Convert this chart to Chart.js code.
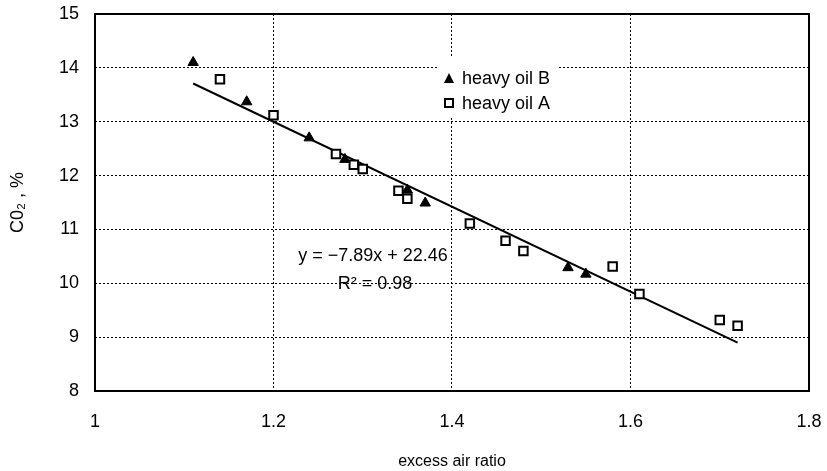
<!DOCTYPE html>
<html>
<head>
<meta charset="utf-8">
<script src="https://cdn.jsdelivr.net/npm/chart.js@4/dist/chart.umd.min.js"></script>
<style>
  body { margin: 0; background: #fff; }
  canvas { display: block; }
</style>
</head>
<body>
<canvas id="co2Chart" width="827" height="471"></canvas>
<script>
// values
var oilBX = [1.11, 1.17, 1.24, 1.28, 1.35, 1.37, 1.53, 1.55];
var oilBY = [14.10, 13.37, 12.70, 12.30, 11.73, 11.49, 10.29, 10.17];

var oilAX = [1.14, 1.20, 1.27, 1.29, 1.30, 1.34, 1.35, 1.42, 1.46, 1.48, 1.58, 1.61, 1.70, 1.72];
var oilAY = [13.79, 13.12, 12.40, 12.20, 12.12, 11.72, 11.57, 11.11, 10.79, 10.60, 10.31, 9.80, 9.32, 9.21];

// regression line ends, as drawn
var trendX = [1.11, 1.72];
var trendY = [13.71, 8.90];

var xTickValues = [1, 1.2, 1.4, 1.6, 1.8];
var yTickValues = [8, 9, 10, 11, 12, 13, 14, 15];

var seriesNames = ["heavy oil B", "heavy oil A"];
var equationLines = ["y = \u22127.89x + 22.46", "R\u00b2 = 0.98"];

function toPoints(xs, ys) {
   var pts = [];
   for (var i = 0; i < xs.length; i++) {
      pts.push({ x: xs[i], y: ys[i] });
   }
   return pts;
}

var FONT = "'Liberation Sans', Arial, Helvetica, sans-serif";

// legend box, equation text and the solid frame round the plot
var extrasPlugin = {
   id: "extras",
   afterDatasetsDraw: function (chart) {
      var ctx = chart.ctx;
      ctx.save();

      // legend (white box hides the grid behind it)
      ctx.fillStyle = "#fff";
      ctx.fillRect(437, 58, 122, 60);
      ctx.fillStyle = "#000";
      ctx.beginPath();
      ctx.moveTo(449, 73);
      ctx.lineTo(454, 83);
      ctx.lineTo(444, 83);
      ctx.closePath();
      ctx.fill();
      ctx.lineWidth = 2;
      ctx.strokeRect(445, 99, 8, 8);
      ctx.font = "18px " + FONT;
      ctx.textAlign = "left";
      ctx.textBaseline = "middle";
      ctx.fillText(seriesNames[0], 462, 79);
      ctx.fillText(seriesNames[1], 462, 104);

      // regression equation
      ctx.textAlign = "center";
      ctx.fillText(equationLines[0], 373, 256);
      ctx.fillText(equationLines[1], 375, 284);

      // frame
      var a = chart.chartArea;
      ctx.lineWidth = 2;
      ctx.strokeRect(a.left, a.top, a.right - a.left, a.bottom - a.top);
      ctx.restore();
   }
};

var ctx = document.getElementById("co2Chart").getContext("2d");
var co2Chart = new Chart(ctx, {
   type: "scatter",
   data: {
      datasets: [
         {
            label: seriesNames[0],
            data: toPoints(oilBX, oilBY),
            pointStyle: "triangle",
            pointRadius: 6,
            pointBackgroundColor: "#000",
            pointBorderColor: "#000",
            pointBorderWidth: 1,
            order: 0
         },
         {
            label: seriesNames[1],
            data: toPoints(oilAX, oilAY),
            pointStyle: "rect",
            pointRadius: 6,
            pointBackgroundColor: "#fff",
            pointBorderColor: "#000",
            pointBorderWidth: 2,
            order: 1
         },
         {
            type: "line",
            label: "trend",
            data: toPoints(trendX, trendY),
            borderColor: "#000",
            borderWidth: 2,
            pointRadius: 0,
            fill: false,
            order: 2
         }
      ]
   },
   options: {
      responsive: false,
      animation: false,
      layout: { padding: { left: 0, right: 18, top: 14, bottom: 0 } },
      plugins: {
         legend: { display: false },
         tooltip: { enabled: false }
      },
      scales: {
         x: {
            type: "linear",
            min: 1,
            max: 1.8,
            afterBuildTicks: function (scale) {
               scale.ticks = xTickValues.map(function (v) { return { value: v }; });
            },
            afterFit: function (scale) {
               scale.height = 80;
               scale.paddingLeft = 0;
               scale.paddingRight = 0;
            },
            ticks: {
               color: "#000",
               padding: 20,
               font: { family: FONT, size: 18 },
               callback: function (v) { return String(v); }
            },
            grid: { color: "#000", lineWidth: 1, drawTicks: false },
            border: { display: false, dash: [2, 2] },
            title: {
               display: true,
               text: "excess air ratio",
               color: "#000",
               font: { family: "'Liberation Sans Narrow', 'Liberation Sans', Arial, sans-serif", size: 16 },
               padding: { top: 0, bottom: 0 }
            }
         },
         y: {
            type: "linear",
            min: 8,
            max: 15,
            afterBuildTicks: function (scale) {
               scale.ticks = yTickValues.map(function (v) { return { value: v }; });
            },
            afterFit: function (scale) {
               scale.width = 95;
               scale.paddingTop = 0;
               scale.paddingBottom = 0;
            },
            ticks: {
               color: "#000",
               padding: 16,
               font: { family: FONT, size: 18 },
               callback: function (v) { return String(v); }
            },
            grid: { color: "#000", lineWidth: 1, drawTicks: false },
            border: { display: false, dash: [2, 2] },
            title: {
               display: true,
               text: "C0\u2082 , %",
               color: "#000",
               font: { family: FONT, size: 18 },
               padding: { top: 7, bottom: 0 }
            }
         }
      }
   },
   plugins: [extrasPlugin]
});
</script>
</body>
</html>
